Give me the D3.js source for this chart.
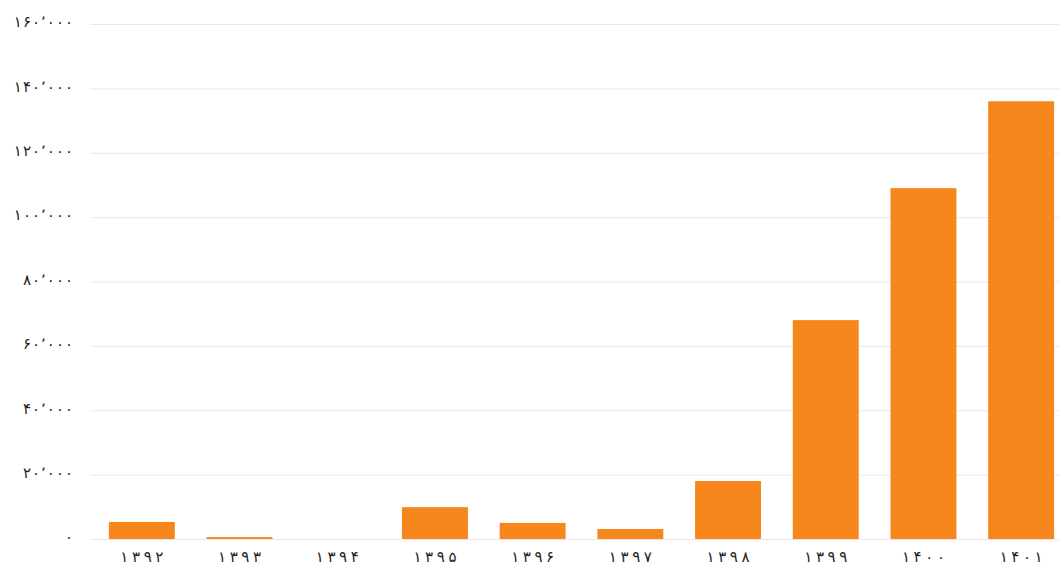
<!DOCTYPE html>
<html><head><meta charset="utf-8">
<script src="https://cdn.jsdelivr.net/npm/d3@7"></script>
<style>body{margin:0;background:#fff}svg{display:block}</style>
</head><body>
<svg id="c" width="1059" height="572"></svg>
<script>
const categories = ["۱۳۹۲","۱۳۹۳","۱۳۹۴","۱۳۹۵","۱۳۹۶","۱۳۹۷","۱۳۹۸","۱۳۹۹","۱۴۰۰","۱۴۰۱"];
const values = [5300, 600, 0, 9900, 5000, 3100, 18000, 68000, 109000, 136000];
const yTicks = [0, 20000, 40000, 60000, 80000, 100000, 120000, 140000, 160000];

const svg = d3.select("#c");
const x = d3.scaleBand().domain(categories).range([93, 1070]).paddingInner(0.325).paddingOuter(0.1625);
const y = d3.scaleLinear().domain([0, 160000]).range([539, 24]);

const fa = n => {
  const s = d3.format(",")(n).replace(/,/g, "\u066C");
  return s.replace(/[0-9]/g, d => "۰۱۲۳۴۵۶۷۸۹"[+d]);
};

const grid = svg.append("g").call(d3.axisLeft(y).tickValues(yTicks).tickSize(-(1059 - 90)).tickFormat(""))
  .attr("transform", "translate(90,0)");
grid.select(".domain").remove();
grid.selectAll("line").attr("stroke", "#e8e8e8").attr("stroke-width", 1);

const yl = svg.append("g").attr("transform", "translate(73,0)").call(d3.axisLeft(y).tickValues(yTicks).tickSize(0).tickFormat(fa));
yl.select(".domain").remove();
yl.selectAll("text").attr("font-family", "DejaVu Sans").attr("font-size", 15)
  .attr("fill", "#222").attr("x", 0).attr("y", -2).attr("dy", "0.32em")
  .each(function(d) {
    const t = fa(d);
    if (t.length > 1) d3.select(this).attr("textLength", (t.length - 1) * 9.2 + 4).attr("lengthAdjust", "spacing");
  });

svg.append("g").selectAll("rect").data(values).join("rect")
  .attr("x", (d, i) => x(categories[i]))
  .attr("width", x.bandwidth())
  .attr("y", d => y(d))
  .attr("height", d => y(0) - y(d))
  .attr("fill", "#f7861c");

const xl = svg.append("g").attr("transform", "translate(0,539)").call(d3.axisBottom(x).tickSize(0));
xl.select(".domain").remove();
xl.selectAll("text").attr("font-family", "DejaVu Sans").attr("font-size", 15)
  .attr("fill", "#222").attr("y", 23).attr("dy", null)
  .attr("textLength", 43).attr("lengthAdjust", "spacing");
</script>
</body></html>
